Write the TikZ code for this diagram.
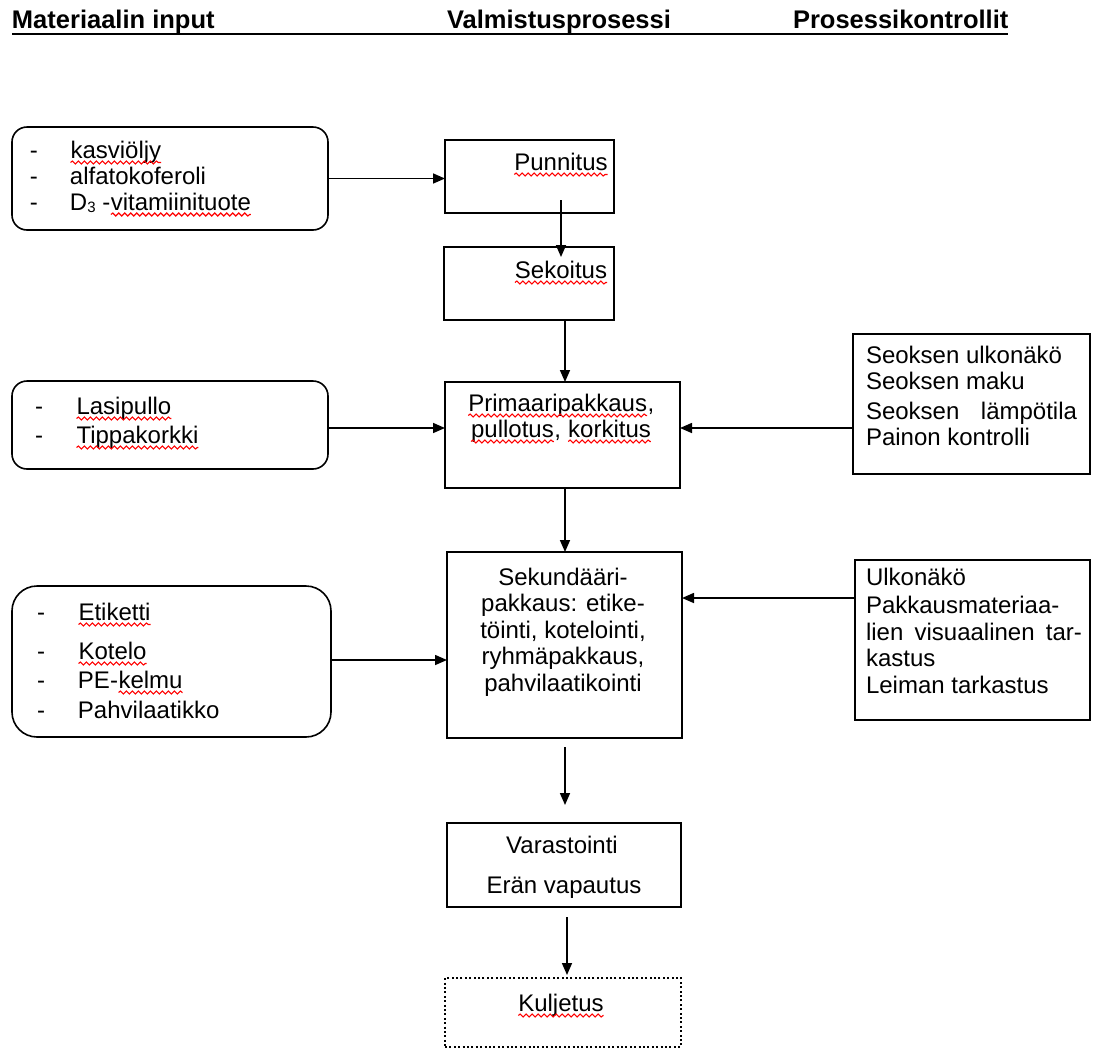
\documentclass[tikz,border=0pt]{standalone}
\usepackage{fontspec}
\setmainfont{Liberation Sans}
\usetikzlibrary{arrows.meta,decorations.pathmorphing,calc}
\tikzset{
  box/.style={draw, line width=1.6pt, anchor=north west, inner sep=0pt, outer sep=0pt, rectangle},
  rbox/.style={box, rounded corners=#1},
  rbox/.default=15pt,
  dotbox/.style={box, dash pattern=on 2pt off 2.4pt},
  txt/.style={inner sep=0pt, outer sep=0pt, font=\fontsize{24}{28}\selectfont},
  hd/.style={inner sep=0pt, outer sep=0pt, anchor=base west, font=\bfseries\fontsize{25.5}{30}\selectfont},
  conn/.style={line width=1.6pt, -{Triangle[length=12pt,width=10pt]}},
  sqline/.style={draw=red, solid, line width=1.1pt, decorate, decoration={snake, amplitude=1.5pt, segment length=6pt}},
}
\newcommand\sqw[1]{\tikz[baseline=(sqn.base)]{\node[inner sep=0pt,outer sep=0pt,anchor=base,draw=none,fill=none,rectangle] (sqn) {#1};\path[sqline] ([yshift=-4.5pt]sqn.base west) -- ([yshift=-4.5pt]sqn.base east);}}
\newcommand\dsh[1]{\makebox[#1][l]{-}}
\begin{document}
\begin{tikzpicture}[x=1pt,y=-1pt]
\useasboundingbox (0,0) rectangle (1096,1050);
% headers
\node[hd] (h1) at (12,28) {Materiaalin input};
\node[hd] (h2) at (447,28) {Valmistusprosessi};
\node[hd] (h3) at (793,28) {Prosessikontrollit};
\draw[line width=2.8pt] ($(h1.base west)+(0,6)$) -- ($(h3.base east)+(0,6)$);

% input boxes
\node[rbox=15pt, minimum width=316pt, minimum height=103pt] (in1) at (12,127) {};
\node[txt, anchor=base west] (in1a) at (30,158) {\dsh{40pt}\sqw{kasviöljy}};
\node[txt, anchor=base west] (in1b) at (30,184) {\dsh{40pt}alfatokoferoli};
\node[txt, anchor=base west] (in1c) at (30,210) {\dsh{40pt}D\raisebox{-2pt}{\fontsize{15}{15}\selectfont 3} -\sqw{vitamiinituote}};

\node[rbox=15pt, minimum width=316pt, minimum height=88pt] (in2) at (12,381) {};
\node[txt, anchor=base west] (in2a) at (35,414) {\dsh{41pt}\sqw{Lasipullo}};
\node[txt, anchor=base west] (in2b) at (35,443) {\dsh{41pt}\sqw{Tippakorkki}};

\node[rbox=25pt, minimum width=319pt, minimum height=151pt] (in3) at (12,586) {};
\node[txt, anchor=base west] (in3a) at (37,620) {\dsh{41pt}\sqw{Etiketti}};
\node[txt, anchor=base west] (in3b) at (37,659) {\dsh{41pt}\sqw{Kotelo}};
\node[txt, anchor=base west] (in3c) at (37,688) {\dsh{41pt}PE-\sqw{kelmu}};
\node[txt, anchor=base west] (in3d) at (37,718) {\dsh{41pt}Pahvilaatikko};

% process boxes
\node[box, minimum width=169pt, minimum height=73pt] (pun) at (445,140) {};
\node[txt, anchor=base] (punt) at (561,170) {\sqw{Punnitus}};

\node[box, minimum width=170pt, minimum height=73pt] (sek) at (444,247) {};
\node[txt, anchor=base] (sekt) at (561,278) {\sqw{Sekoitus}};

\node[box, minimum width=235pt, minimum height=106pt] (pri) at (445,382) {};
\node[txt, anchor=base] (pria) at (561,411) {\sqw{Primaaripakkaus},};
\node[txt, anchor=base] (prib) at (561,437) {\sqw{pullotus}, \sqw{korkitus}};

\node[box, minimum width=235pt, minimum height=186pt] (sku) at (447,552) {};
\node[txt, anchor=base] (skua) at (563,585) {Sekundääri-};
\node[txt, anchor=base] (skub) at (563,611) {pakkaus: etike-};
\node[txt, anchor=base] (skuc) at (563,638) {töinti, kotelointi,};
\node[txt, anchor=base] (skud) at (563,664) {ryhmäpakkaus,};
\node[txt, anchor=base] (skue) at (563,691) {pahvilaatikointi};

\node[box, minimum width=234pt, minimum height=84pt] (var) at (447,823) {};
\node[txt, anchor=base] (vara) at (562,853) {Varastointi};
\node[txt, anchor=base] (varb) at (564,893) {Erän vapautus};

\node[dotbox, minimum width=236pt, minimum height=69pt] (kul) at (445,978) {};
\node[txt, anchor=base] (kult) at (561,1011) {\sqw{Kuljetus}};

% control boxes
\node[box, minimum width=237pt, minimum height=140pt] (c1) at (853,334) {};
\node[txt, anchor=base west] (c1a) at (866,363) {Seoksen ulkonäkö};
\node[txt, anchor=base west] (c1b) at (866,389) {Seoksen maku};
\node[txt, anchor=base west] (c1c) at (866,419) {\makebox[211pt][s]{Seoksen\hfill lämpötila}};
\node[txt, anchor=base west] (c1d) at (866,445) {Painon kontrolli};

\node[box, minimum width=235pt, minimum height=160pt] (c2) at (855,560) {};
\node[txt, anchor=base west] (c2a) at (866,585) {Ulkonäkö};
\node[txt, anchor=base west] (c2b) at (866,613) {Pakkausmateriaa-};
\node[txt, anchor=base west] (c2c) at (866,640) {\makebox[216pt][s]{lien\hfill visuaalinen\hfill tar-}};
\node[txt, anchor=base west] (c2d) at (866,666) {kastus};
\node[txt, anchor=base west] (c2e) at (866,693) {Leiman tarkastus};

% helper coordinates
\coordinate (cx1) at (561,0);
\coordinate (cx2) at (565,0);
\coordinate (cx3) at (567,0);
\coordinate (ay4) at (0,428);
\coordinate (ay7) at (0,660);
\coordinate (ay8) at (0,598);

% connectors
\draw[conn] (in1.east) -- (in1.east -| pun.west);
\draw[conn] ($(pun.south -| cx1)+(0,-13)$) -- ($(sek.north -| cx1)+(0,10)$);
\draw[conn] (sek.south -| cx2) -- (pri.north -| cx2);
\draw[conn] (in2.east |- ay4) -- (pri.west |- ay4);
\draw[conn] (c1.west |- ay4) -- (pri.east |- ay4);
\draw[conn] (pri.south -| cx2) -- (sku.north -| cx2);
\draw[conn] (in3.east |- ay7) -- (sku.west |- ay7);
\draw[conn] (c2.west |- ay8) -- (sku.east |- ay8);
\draw[conn] ($(sku.south -| cx2)+(0,9)$) -- ($(var.north -| cx2)+(0,-18)$);
\draw[conn] ($(var.south -| cx3)+(0,10)$) -- ($(kul.north -| cx3)+(0,-3)$);
\end{tikzpicture}
\end{document}
